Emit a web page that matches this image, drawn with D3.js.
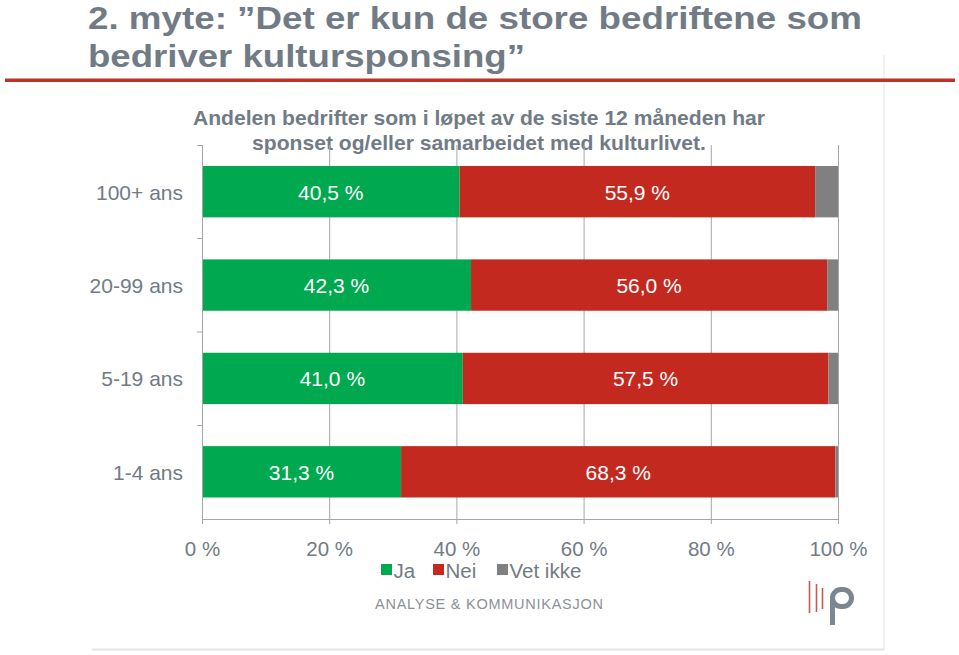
<!DOCTYPE html>
<html><head><meta charset="utf-8">
<script src="https://cdn.jsdelivr.net/npm/d3@7"></script>
<style>body{margin:0;background:#fff}svg{display:block}</style>
</head><body>
<svg id="c" width="959" height="655"></svg>
<script>
const categories = ["100+ ans", "20-99 ans", "5-19 ans", "1-4 ans"];
const seriesNames = ["Ja", "Nei", "Vet ikke"];
const ja = [40.5, 42.3, 41.0, 31.3];
const nei = [55.9, 56.0, 57.5, 68.3];
const vetIkke = [3.6, 1.7, 1.5, 0.4];
const xTicks = [0, 20, 40, 60, 80, 100];
const colors = ["#00a950", "#c4291f", "#808080"];
const titleLines = ["2. myte: \u201DDet er kun de store bedriftene som", "bedriver kultursponsing\u201D"];
const chartTitle = ["Andelen bedrifter som i løpet av de siste 12 måneden har", "sponset og/eller samarbeidet med kulturlivet."];

const svg = d3.select("#c");
const font = "'Liberation Sans', Arial, sans-serif";
const textGray = "#717b85";

// panel
svg.append("line").attr("x1", 884).attr("x2", 884).attr("y1", 55).attr("y2", 650).attr("stroke", "#e4e4e4").attr("stroke-width", 1);
svg.append("line").attr("x1", 92).attr("x2", 884).attr("y1", 649.5).attr("y2", 649.5).attr("stroke", "#e4e4e4").attr("stroke-width", 2);

// title
const titleW = [774, 437];
svg.append("g").selectAll("text").data(titleLines).join("text")
  .attr("x", 88).attr("y", (d, i) => 29 + i * 38)
  .attr("font-family", font).attr("font-size", 32).attr("font-weight", "bold").attr("fill", textGray)
  .attr("textLength", (d, i) => titleW[i]).attr("lengthAdjust", "spacingAndGlyphs")
  .text(d => d);
svg.append("rect").attr("x", 5).attr("y", 78.5).attr("width", 950).attr("height", 3.5).attr("fill", "#c0302b");

// chart title
const ctW = [572, 454];
svg.append("g").selectAll("text").data(chartTitle).join("text")
  .attr("x", 479).attr("y", (d, i) => 125 + i * 24.5).attr("text-anchor", "middle")
  .attr("font-family", font).attr("font-size", 20.5).attr("font-weight", "bold").attr("fill", textGray)
  .attr("textLength", (d, i) => ctW[i]).attr("lengthAdjust", "spacingAndGlyphs")
  .text(d => d);

const x = d3.scaleLinear().domain([0, 100]).range([202, 838]);
const y = d3.scaleBand().domain(categories).range([145, 518.5]).paddingInner(0.45).paddingOuter(0.225);

// gridlines
svg.append("g").selectAll("line").data(xTicks.slice(1)).join("line")
  .attr("x1", d => x(d) + 0.5).attr("x2", d => x(d) + 0.5).attr("y1", 145).attr("y2", 519)
  .attr("stroke", "#a6a6a6").attr("stroke-width", 1);

// bars
const stackData = categories.map((c, i) => ({ c, Ja: ja[i], Nei: nei[i], "Vet ikke": vetIkke[i] }));
const stack = d3.stack().keys(seriesNames)(stackData);
stack.forEach((layer, li) => {
  svg.append("g").selectAll("rect").data(layer).join("rect")
    .attr("x", d => x(d[0])).attr("width", d => x(d[1]) - x(d[0]))
    .attr("y", d => y(d.data.c)).attr("height", y.bandwidth())
    .attr("fill", colors[li]);
  if (li < 2) {
    svg.append("g").selectAll("text").data(layer).join("text")
      .attr("x", d => (x(d[0]) + x(d[1])) / 2).attr("y", d => y(d.data.c) + y.bandwidth() / 2 + 8)
      .attr("text-anchor", "middle").attr("font-family", font).attr("font-size", 21).attr("fill", "#fff")
      .text(d => (d[1] - d[0]).toFixed(1).replace(".", ",") + " %");
  }
});

// left axis
const ax = svg.append("g");
ax.append("line").attr("x1", 202.5).attr("x2", 202.5).attr("y1", 145).attr("y2", 519).attr("stroke", "#a6a6a6");
const bounds = [145, 238, 331.5, 425, 518.5];
ax.selectAll("line.t").data(bounds.slice(0, 4)).join("line").attr("class", "t")
  .attr("x1", 197).attr("x2", 202).attr("y1", d => d + 0.5).attr("y2", d => d + 0.5).attr("stroke", "#a6a6a6");
ax.selectAll("text").data(categories).join("text")
  .attr("x", 183).attr("y", d => y(d) + y.bandwidth() / 2 + 8).attr("text-anchor", "end")
  .attr("font-family", font).attr("font-size", 21).attr("fill", textGray).text(d => d);

// bottom axis
const bx = svg.append("g").attr("transform", "translate(0,519)")
  .call(d3.axisBottom(x).tickValues(xTicks).tickSize(5).tickSizeOuter(0).tickFormat(d => d + " %"));
bx.select(".domain").attr("stroke", "#a6a6a6");
bx.selectAll(".tick line").attr("stroke", "#a6a6a6");
bx.selectAll(".tick text").attr("y", 37).attr("dy", 0).attr("font-family", font).attr("font-size", 20.5).attr("fill", textGray);

// legend
const legX = [381, 433, 497];
const lg = svg.append("g").selectAll("g").data(seriesNames).join("g")
  .attr("transform", (d, i) => `translate(${legX[i]},564)`);
lg.append("rect").attr("width", 11).attr("height", 11).attr("fill", (d, i) => colors[i]);
lg.append("text").attr("x", 12.5).attr("y", 14).attr("font-family", font).attr("font-size", 20.5).attr("fill", textGray).text(d => d);

// logo
svg.append("text").attr("x", 375).attr("y", 609).attr("font-family", font).attr("font-size", 14.5)
  .attr("textLength", 228).attr("lengthAdjust", "spacing").attr("fill", "#8c9196").text("ANALYSE & KOMMUNIKASJON");
const logo = svg.append("g");
[[809.5, 581, 613], [816.5, 584, 612], [822.5, 588, 609]].forEach(l => {
  logo.append("line").attr("x1", l[0]).attr("x2", l[0]).attr("y1", l[1]).attr("y2", l[2]).attr("stroke", "#c45a52").attr("stroke-width", 1.6);
});
logo.append("line").attr("x1", 832.5).attr("x2", 832.5).attr("y1", 596).attr("y2", 625).attr("stroke", "#7a8790").attr("stroke-width", 5);
logo.append("rect").attr("x", 832.5).attr("y", 589.5).attr("width", 19).attr("height", 17).attr("rx", 8.5)
  .attr("fill", "none").attr("stroke", "#7a8790").attr("stroke-width", 5);
</script>
</body></html>
